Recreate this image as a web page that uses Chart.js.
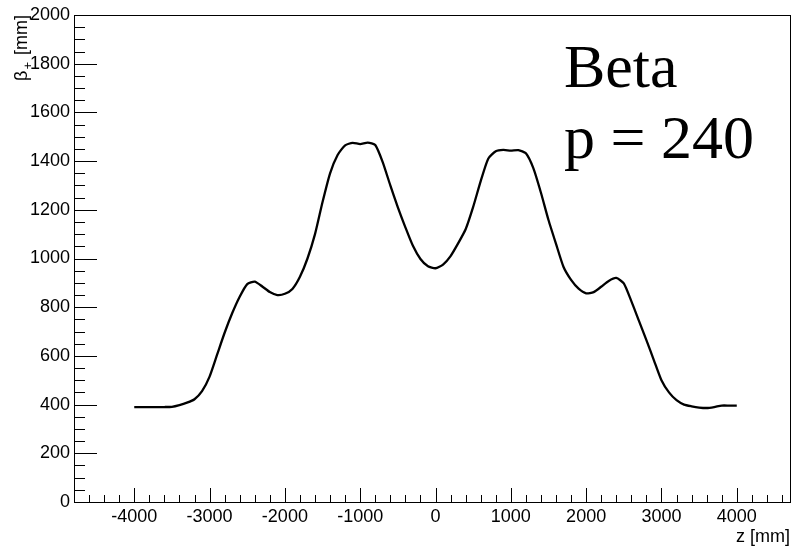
<!DOCTYPE html>
<html lang="en">
<head>
    <meta charset="UTF-8">
    <title>Beta function</title>
    <script src="https://cdn.jsdelivr.net/npm/chart.js"></script>
    <style>
        body {
            margin: 0;
            background-color: white;
        }

        #wrap {
            width: 797px;
            height: 548px;
            position: relative;
        }
    </style>
</head>
<body>
    <div id="wrap">
        <canvas id="betaChart"></canvas>
    </div>

    <script>
        // beta_+ along z, sampled every 100 mm
        const zValues = [
            -4000, -3900, -3800, -3700, -3600, -3500, -3400, -3300, -3200, -3100,
            -3000, -2900, -2800, -2700, -2600, -2500, -2400, -2300, -2200, -2100,
            -2000, -1900, -1800, -1700, -1600, -1500, -1400, -1300, -1200, -1100,
            -1000, -900, -800, -700, -600, -500, -400, -300, -200, -100,
            0, 100, 200, 300, 400, 500, 600, 700, 800, 900,
            1000, 1100, 1200, 1300, 1400, 1500, 1600, 1700, 1800, 1900,
            2000, 2100, 2200, 2300, 2400, 2500, 2600, 2700, 2800, 2900,
            3000, 3100, 3200, 3300, 3400, 3500, 3600, 3700, 3800, 3900,
            4000
        ];
        const betaValues = [
            390, 390, 390, 390, 390, 391, 398, 408, 422, 455,
            515, 605, 695, 775, 843, 895, 905, 885, 862, 850,
            855, 875, 925, 1000, 1100, 1232, 1350, 1425, 1465, 1475,
            1470, 1476, 1466, 1395, 1300, 1210, 1128, 1052, 998, 968,
            960, 975, 1010, 1062, 1120, 1212, 1318, 1410, 1440, 1446,
            1443, 1445, 1432, 1370, 1270, 1158, 1060, 965, 912, 876,
            857, 862, 884, 908, 920, 898, 825, 745, 665, 582,
            500, 450, 418, 400, 393, 388, 386, 390, 396, 396,
            396
        ];

        const xTicks = [-4000, -3000, -2000, -1000, 0, 1000, 2000, 3000, 4000];
        const yTicks = [0, 200, 400, 600, 800, 1000, 1200, 1400, 1600, 1800, 2000];

        const xMin = -4800, xMax = 4720;
        const yMin = 0, yMax = 2000;

        const axisFont = '18px "Liberation Sans", Arial, sans-serif';

        // frame, inward tick marks and extra text
        const frameAndText = {
            id: 'frameAndText',
            afterDraw(chart) {
                const ctx = chart.ctx;
                const area = chart.chartArea;
                const xs = chart.scales.x;
                const ys = chart.scales.y;

                ctx.save();
                ctx.strokeStyle = '#000';
                ctx.lineWidth = 1;
                ctx.strokeRect(Math.round(area.left) + 0.5, Math.round(area.top) + 0.5,
                    Math.round(area.right - area.left) - 1, Math.round(area.bottom - area.top));

                ctx.beginPath();
                // x ticks: major every 1000, minor every 200
                for (let v = -4600; v <= xMax; v += 200) {
                    const px = Math.round(xs.getPixelForValue(v)) + 0.5;
                    const len = (v % 1000 === 0) ? 14 : 7;
                    ctx.moveTo(px, area.bottom);
                    ctx.lineTo(px, area.bottom - len);
                }
                // y ticks: major every 200, minor every 50
                for (let v = yMin + 50; v < yMax; v += 50) {
                    const py = Math.round(ys.getPixelForValue(v)) + 0.5;
                    const len = (v % 200 === 0) ? 23 : 11;
                    ctx.moveTo(area.left, py);
                    ctx.lineTo(area.left + len, py);
                }
                ctx.stroke();

                ctx.fillStyle = '#000';

                // x axis title
                ctx.font = axisFont;
                ctx.textAlign = 'right';
                ctx.textBaseline = 'middle';
                ctx.fillText('z [mm]', 790, 537);

                // y axis title, rotated
                ctx.translate(27, 15);
                ctx.rotate(-Math.PI / 2);
                ctx.textBaseline = 'alphabetic';
                ctx.textAlign = 'right';
                ctx.font = axisFont;
                ctx.fillText('[mm]', 0, 0);
                let pos = ctx.measureText('[mm]').width + ctx.measureText(' ').width + 2;
                ctx.font = '13px "Liberation Sans", Arial, sans-serif';
                ctx.fillText('+', -pos, 5);
                pos += ctx.measureText('+').width + 1;
                ctx.font = axisFont;
                ctx.fillText('β', -pos, 0);
                ctx.restore();

                // annotation
                ctx.save();
                ctx.fillStyle = '#000';
                ctx.font = '62px "Liberation Serif", "Times New Roman", serif';
                ctx.textAlign = 'left';
                ctx.textBaseline = 'alphabetic';
                ctx.fillText('Beta', 564, 87);
                ctx.fillText('p = 240', 564, 158);
                ctx.restore();
            }
        };

        const points = zValues.map((z, i) => ({ x: z, y: betaValues[i] }));

        new Chart(document.getElementById('betaChart'), {
            type: 'line',
            data: {
                datasets: [{
                    data: points,
                    borderColor: '#000',
                    borderWidth: 2.3,
                    pointRadius: 0,
                    tension: 0.2,
                    fill: false
                }]
            },
            options: {
                responsive: true,
                maintainAspectRatio: false,
                animation: false,
                layout: {
                    padding: { top: 15, right: 6, left: 0, bottom: 0 }
                },
                plugins: {
                    legend: { display: false },
                    tooltip: { enabled: false }
                },
                scales: {
                    x: {
                        type: 'linear',
                        min: xMin,
                        max: xMax,
                        afterBuildTicks: s => { s.ticks = xTicks.map(v => ({ value: v })); },
                        afterFit: s => { s.height = 46; },
                        grid: { display: false, drawTicks: false },
                        border: { display: false },
                        ticks: {
                            color: '#000',
                            padding: 4,
                            maxRotation: 0,
                            autoSkip: false,
                            callback: v => String(v),
                            font: { family: '"Liberation Sans", Arial, sans-serif', size: 18 }
                        }
                    },
                    y: {
                        type: 'linear',
                        min: yMin,
                        max: yMax,
                        afterBuildTicks: s => { s.ticks = yTicks.map(v => ({ value: v })); },
                        afterFit: s => { s.width = 74; },
                        grid: { display: false, drawTicks: false },
                        border: { display: false },
                        ticks: {
                            color: '#000',
                            padding: 4,
                            autoSkip: false,
                            callback: v => String(v),
                            font: { family: '"Liberation Sans", Arial, sans-serif', size: 18 }
                        }
                    }
                }
            },
            plugins: [frameAndText]
        });
    </script>
</body>
</html>
